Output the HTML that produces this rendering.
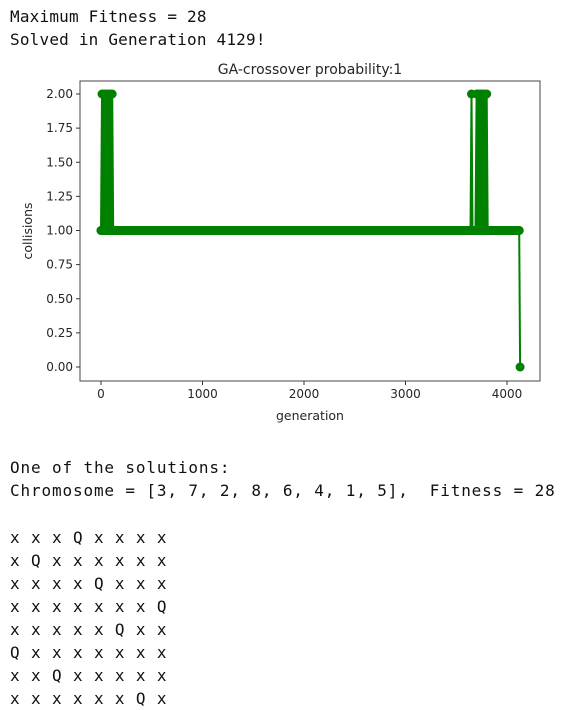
<!DOCTYPE html>
<html><head><meta charset="utf-8">
<style>
body{margin:0;width:561px;height:706px;background:#fff;position:relative;overflow:hidden;font-family:"DejaVu Sans Mono","Liberation Mono",monospace;color:#111}
.t{position:absolute;left:10px;font-size:16px;white-space:pre;line-height:23px}
.top{letter-spacing:0.2px}
.bot{letter-spacing:0.86px}
svg{position:absolute;left:0;top:0}
svg text{font-family:"DejaVu Sans","Liberation Sans",sans-serif;fill:#262626}
</style></head><body>
<div class="t top" style="top:5px">Maximum Fitness = 28</div>
<div class="t top" style="top:28px">Solved in Generation 4129!</div>
<svg id="chart" width="561" height="440"></svg>
<div class="t bot" style="top:456px">One of the solutions:</div>
<div class="t bot" style="top:479px">Chromosome = [3, 7, 2, 8, 6, 4, 1, 5],  Fitness = 28</div>
<div class="t bot" style="top:526px">x x x Q x x x x
x Q x x x x x x
x x x x Q x x x
x x x x x x x Q
x x x x x Q x x
Q x x x x x x x
x x Q x x x x x
x x x x x x Q x</div>
<script>
const xTicks=[0,1000,2000,3000,4000];
const yTicks=[0,0.25,0.5,0.75,1,1.25,1.5,1.75,2];
const yLabels=["0.00","0.25","0.50","0.75","1.00","1.25","1.50","1.75","2.00"];
const gens=[0,10,20,30,40,50,60,70,80,90,100,110,120,3640,3650,3660,3690,3700,3710,3720,3730,3740,3750,3760,3770,3780,3790,3800,3810,4120,4129];
const collisions=[1,2,1,2,1,2,1,2,1,2,1,2,1,1,2,1,1,2,1,2,1,2,1,2,1,2,1,2,1,1,0];
const NS="http://www.w3.org/2000/svg";
const svg=document.getElementById('chart');
const L=80,R=540,T=81,B=381;
const X=v=>101+v*0.1015;
const Y=v=>367-v*136.5;
function mk(tag,attrs){const e=document.createElementNS(NS,tag);for(const k in attrs)e.setAttribute(k,attrs[k]);svg.appendChild(e);return e;}
const title=mk('text',{x:310,y:74,'text-anchor':'middle','font-size':'14'});title.textContent='GA-crossover probability:1';


xTicks.forEach(v=>{
  const tk=mk('line',{x1:X(v),x2:X(v),y1:B,y2:B+4,stroke:'#333'});
  
  
  const t=mk('text',{x:X(v),y:B+17,'text-anchor':'middle','font-size':'12'});t.textContent=v;
  
  
});
yTicks.forEach((v,i)=>{
  const tk=mk('line',{x1:L-4,x2:L,y1:Y(v),y2:Y(v),stroke:'#333'});
  
  
  const t=mk('text',{x:L-7,y:Y(v)+4,'text-anchor':'end','font-size':'12'});t.textContent=yLabels[i];
  
  
});
const xt=mk('text',{x:310,y:420,'text-anchor':'middle','font-size':'12.5'});xt.textContent='generation';


const yt=mk('text',{x:0,y:0,'text-anchor':'middle','font-size':'12.5',transform:'translate(32,231) rotate(-90)'});yt.textContent='collisions';


let d='';gens.forEach((g,i)=>{d+=(i?'L':'M')+X(g).toFixed(1)+' '+Y(collisions[i]).toFixed(1);});
const line=mk('path',{d:d,fill:'none',stroke:'#008000','stroke-width':'2'});


const band=mk('path',{d:'M'+X(gens[0])+' '+Y(1)+'L'+X(gens[gens.length-2])+' '+Y(1),stroke:'#008000','stroke-width':'9','stroke-linecap':'round'});


gens.forEach((g,i)=>{
  const c=mk('circle',{cx:X(g),cy:Y(collisions[i]),r:4.5,fill:'#008000'});
  
  
});
const frame=mk('rect',{x:L,y:T,width:R-L,height:B-T,fill:'none',stroke:'#444','stroke-width':'1'});


</script>
</body></html>
